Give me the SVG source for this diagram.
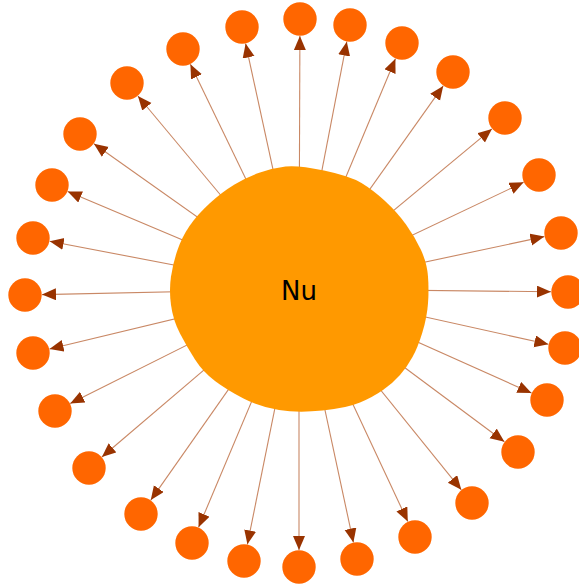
<svg xmlns="http://www.w3.org/2000/svg" width="579" height="586" viewBox="0 0 579 586">
<style>
.edge{stroke:#c98865;stroke-width:1.1;fill:none;marker-end:url(#arr)}
.leaf{fill:#ff6600}
.hub{fill:#ff9900}
.lbl{font-family:"DejaVu Sans",sans-serif;font-size:26px;fill:#000;text-anchor:middle}
</style>
<defs>
<marker id="arr" markerUnits="userSpaceOnUse" markerWidth="15" markerHeight="13" refX="14" refY="6" orient="auto">
<path d="M0,0 L14,6 L0,12 z" fill="#993300"/>
</marker>
</defs>
<rect width="579" height="586" fill="#fff"/>
<g id="connectors">
<line class="edge" x1="299" y1="289" x2="299.9" y2="36"/>
<line class="edge" x1="299" y1="289" x2="346.8" y2="41.7"/>
<line class="edge" x1="299" y1="289" x2="395.4" y2="58.7"/>
<line class="edge" x1="299" y1="289" x2="443.2" y2="85.9"/>
<line class="edge" x1="299" y1="289" x2="491.9" y2="128.9"/>
<line class="edge" x1="299" y1="289" x2="523.6" y2="182.3"/>
<line class="edge" x1="299" y1="289" x2="544.4" y2="236.6"/>
<line class="edge" x1="299" y1="289" x2="551" y2="291.8"/>
<line class="edge" x1="299" y1="289" x2="548.4" y2="344.3"/>
<line class="edge" x1="299" y1="289" x2="531.5" y2="393.1"/>
<line class="edge" x1="299" y1="289" x2="504.4" y2="441.8"/>
<line class="edge" x1="299" y1="289" x2="461.3" y2="489.8"/>
<line class="edge" x1="299" y1="289" x2="407.8" y2="521.6"/>
<line class="edge" x1="299" y1="289" x2="353.4" y2="542.4"/>
<line class="edge" x1="299" y1="289" x2="299" y2="550"/>
<line class="edge" x1="299" y1="289" x2="247.4" y2="544.3"/>
<line class="edge" x1="299" y1="289" x2="198.6" y2="527.3"/>
<line class="edge" x1="299" y1="289" x2="150.8" y2="500.1"/>
<line class="edge" x1="299" y1="289" x2="101.9" y2="457"/>
<line class="edge" x1="299" y1="289" x2="70.2" y2="403.4"/>
<line class="edge" x1="299" y1="289" x2="49.5" y2="349"/>
<line class="edge" x1="299" y1="289" x2="42" y2="294.6"/>
<line class="edge" x1="299" y1="289" x2="49.7" y2="241.2"/>
<line class="edge" x1="299" y1="289" x2="67.7" y2="191.6"/>
<line class="edge" x1="299" y1="289" x2="93.9" y2="143.8"/>
<line class="edge" x1="299" y1="289" x2="137.9" y2="96"/>
<line class="edge" x1="299" y1="289" x2="190.4" y2="64.3"/>
<line class="edge" x1="299" y1="289" x2="245.6" y2="43.6"/>
</g>
<g id="node-nu">
<path class="hub" d="M285.5,166.5 Q298,165 324,170.5 Q350,176 361.5,183 Q373,190 385,201 Q397,212 406,224.5 Q415,237 421,250 Q427,263 428,276.5 Q429,290 428,303.5 Q427,317 422.5,332 Q418,347 412.5,357 Q407,367 400,375 Q393,383 383,390 Q373,397 360,402.5 Q347,408 322.5,410.5 Q298,413 279,410 Q260,407 243.5,398.5 Q227,390 215,381 Q203,372 195,359.5 Q187,347 180,333.5 Q173,320 171,305 Q169,290 171,276.5 Q173,263 177.5,250 Q182,237 189.5,226 Q197,215 209.5,203.5 Q222,192 234.5,184.5 Q247,177 260,172.5 Q273,168 285.5,166.5 Z"/>
<text class="lbl" x="299" y="300">Nu</text>
</g>
<g id="node-1"><circle class="leaf" cx="300" cy="19" r="16.7"/></g>
<g id="node-2"><circle class="leaf" cx="350" cy="25" r="16.7"/></g>
<g id="node-3"><circle class="leaf" cx="402" cy="43" r="16.7"/></g>
<g id="node-4"><circle class="leaf" cx="453" cy="72" r="16.7"/></g>
<g id="node-5"><circle class="leaf" cx="505" cy="118" r="16.7"/></g>
<g id="node-6"><circle class="leaf" cx="539" cy="175" r="16.7"/></g>
<g id="node-7"><circle class="leaf" cx="561" cy="233" r="16.7"/></g>
<g id="node-8"><circle class="leaf" cx="568" cy="292" r="16.7"/></g>
<g id="node-9"><circle class="leaf" cx="565" cy="348" r="16.7"/></g>
<g id="node-10"><circle class="leaf" cx="547" cy="400" r="16.7"/></g>
<g id="node-11"><circle class="leaf" cx="518" cy="452" r="16.7"/></g>
<g id="node-12"><circle class="leaf" cx="472" cy="503" r="16.7"/></g>
<g id="node-13"><circle class="leaf" cx="415" cy="537" r="16.7"/></g>
<g id="node-14"><circle class="leaf" cx="357" cy="559" r="16.7"/></g>
<g id="node-15"><circle class="leaf" cx="299" cy="567" r="16.7"/></g>
<g id="node-16"><circle class="leaf" cx="244" cy="561" r="16.7"/></g>
<g id="node-17"><circle class="leaf" cx="192" cy="543" r="16.7"/></g>
<g id="node-18"><circle class="leaf" cx="141" cy="514" r="16.7"/></g>
<g id="node-19"><circle class="leaf" cx="89" cy="468" r="16.7"/></g>
<g id="node-20"><circle class="leaf" cx="55" cy="411" r="16.7"/></g>
<g id="node-21"><circle class="leaf" cx="33" cy="353" r="16.7"/></g>
<g id="node-22"><circle class="leaf" cx="25" cy="295" r="16.7"/></g>
<g id="node-23"><circle class="leaf" cx="33" cy="238" r="16.7"/></g>
<g id="node-24"><circle class="leaf" cx="52" cy="185" r="16.7"/></g>
<g id="node-25"><circle class="leaf" cx="80" cy="134" r="16.7"/></g>
<g id="node-26"><circle class="leaf" cx="127" cy="83" r="16.7"/></g>
<g id="node-27"><circle class="leaf" cx="183" cy="49" r="16.7"/></g>
<g id="node-28"><circle class="leaf" cx="242" cy="27" r="16.7"/></g>
</svg>
